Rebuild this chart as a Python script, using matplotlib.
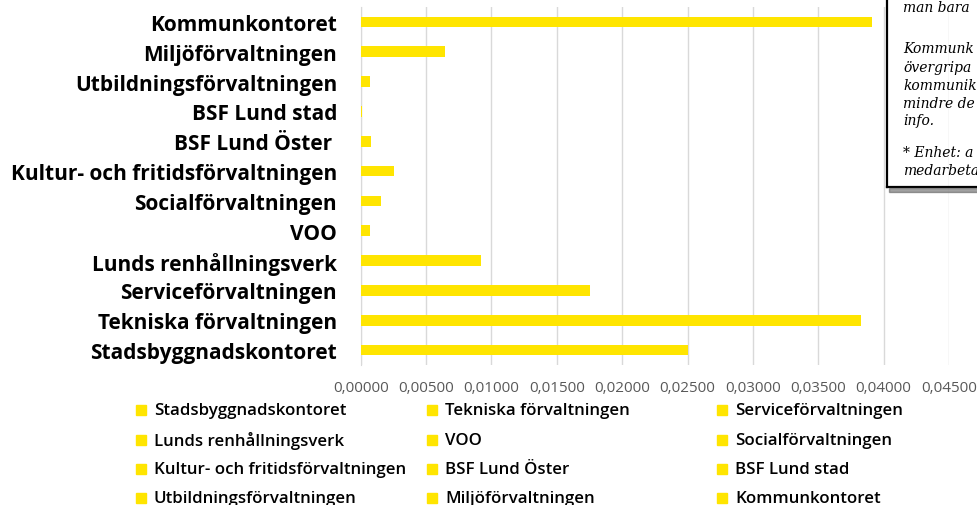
import matplotlib
matplotlib.use("Agg")
import matplotlib.pyplot as plt
from matplotlib.patches import Rectangle
from matplotlib.ticker import FuncFormatter, MultipleLocator

# categories, bottom to top (as drawn on the y axis)
enheter = ["Stadsbyggnadskontoret", "Tekniska förvaltningen", "Serviceförvaltningen",
           "Lunds renhållningsverk", "VOO", "Socialförvaltningen",
           "Kultur- och fritidsförvaltningen", "BSF Lund Öster ", "BSF Lund stad",
           "Utbildningsförvaltningen", "Miljöförvaltningen", "Kommunkontoret"]
varden = [0.02500, 0.03826, 0.01753, 0.00917, 0.00071, 0.00155,
          0.00257, 0.00079, 0.00010, 0.00071, 0.00645, 0.03914]
xticks = [0.0, 0.005, 0.01, 0.015, 0.02, 0.025, 0.03, 0.035, 0.04, 0.045]

# the comment box is cut off by the picture edge: only the visible part is kept
notis = ["man bara", "", "Kommunk", "övergripa", "kommunik", "mindre de", "info.", "",
         "* Enhet: a", "medarbeta"]

GUL = "#FFE500"
W, H = 978, 506

fig = plt.figure(figsize=(W / 100, H / 100), dpi=100)
ax = fig.add_axes([360.7 / W, 1 - 366 / H, (949 - 360.7) / W, 358 / H])

pos = range(len(enheter))
ax.barh(pos, varden, height=0.36, color=GUL, zorder=3)
ax.set_ylim(-0.5, len(enheter) - 0.5)
ax.set_xlim(xticks[0], xticks[-1])
ax.xaxis.set_major_locator(MultipleLocator(0.005))
ax.xaxis.set_major_formatter(FuncFormatter(lambda v, p: f"{v:.5f}".replace(".", ",")))
ax.set_yticks(list(pos))
ax.set_yticklabels(enheter, fontfamily="Open Sans", fontweight="bold", fontsize=15, color="black")
ax.tick_params(axis="y", length=0, pad=17)
ax.tick_params(axis="x", length=0, pad=11, labelsize=11, labelcolor="#595959")
for lbl in ax.get_xticklabels():
    lbl.set_fontfamily("Open Sans")
ax.grid(axis="x", color="#d9d9d9", lw=1, zorder=0)
for s in ["top", "right", "bottom"]:
    ax.spines[s].set_visible(False)
ax.spines["left"].set_color("#d9d9d9")

# legend, laid out like Excel: row by row, three columns
kol_x = [136, 427, 717]
rad_y = [411, 441, 470, 499]
for i, namn in enumerate(enheter):
    r, k = divmod(i, 3)
    x, y = kol_x[k], rad_y[r]
    fig.patches.append(Rectangle((x / W, 1 - (y + 5) / H), 10 / W, 10 / H,
                                 transform=fig.transFigure, color=GUL))
    fig.text((x + 18) / W, 1 - y / H, namn.strip(), fontfamily="Open Sans", fontweight="semibold",
             fontsize=12.2, va="center", ha="left", color="black")

# comment box on the right
box = fig.add_axes([887 / W, 1 - 188 / H, (W - 887) / W, 188 / H])
box.set_xlim(887, W)
box.set_ylim(188, 0)
box.patch.set_alpha(0)
box.set_xticks([])
box.set_yticks([])
for s in ["top", "right"]:
    box.spines[s].set_visible(False)
for s in ["left", "bottom"]:
    box.spines[s].set_color("black")
    box.spines[s].set_linewidth(1.6)
rad_bas = [12, 31, 53, 72, 90, 108, 125, 141, 157, 175]
for txt, yb in zip(notis, rad_bas):
    if txt:
        box.text(903, yb, txt, fontfamily="DejaVu Serif", fontstyle="italic",
                 fontsize=10, va="baseline", ha="left", clip_on=True)
# shadow under the box
fig.patches.append(Rectangle((889 / W, 1 - 193 / H), (W - 889) / W, 4 / H,
                             transform=fig.transFigure, color="#555555", alpha=0.55))

fig.savefig("out.png", dpi=100)
